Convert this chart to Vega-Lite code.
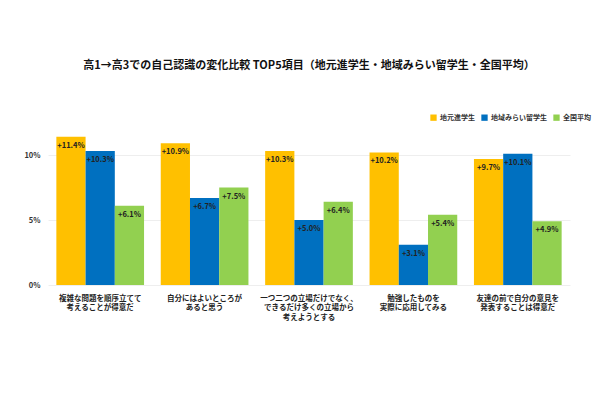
{
  "$schema": "https://vega.github.io/schema/vega-lite/v6.json",
  "width": 522,
  "height": 156,
  "autosize": {"type": "none"},
  "padding": {"left": 48, "top": 129, "right": 40, "bottom": 115},
  "background": "white",
  "title": {
    "text": "高1→高3での自己認識の変化比較 TOP5項目（地元進学生・地域みらい留学生・全国平均）",
    "font": "Noto Sans CJK JP",
    "fontSize": 11,
    "fontWeight": "bold",
    "color": "#111111",
    "anchor": "middle",
    "offset": 43
  },
  "config": {
    "view": {"stroke": null},
    "font": "Noto Sans CJK JP"
  },
  "data": {
    "values": [
      {"item": "複雑な問題を順序立てて\n考えることが得意だ", "group": "地元進学生", "value": 11.4},
      {"item": "複雑な問題を順序立てて\n考えることが得意だ", "group": "地域みらい留学生", "value": 10.3},
      {"item": "複雑な問題を順序立てて\n考えることが得意だ", "group": "全国平均", "value": 6.1},
      {"item": "自分にはよいところが\nあると思う", "group": "地元進学生", "value": 10.9},
      {"item": "自分にはよいところが\nあると思う", "group": "地域みらい留学生", "value": 6.7},
      {"item": "自分にはよいところが\nあると思う", "group": "全国平均", "value": 7.5},
      {"item": "一つ二つの立場だけでなく、\nできるだけ多くの立場から\n考えようとする", "group": "地元進学生", "value": 10.3},
      {"item": "一つ二つの立場だけでなく、\nできるだけ多くの立場から\n考えようとする", "group": "地域みらい留学生", "value": 5.0},
      {"item": "一つ二つの立場だけでなく、\nできるだけ多くの立場から\n考えようとする", "group": "全国平均", "value": 6.4},
      {"item": "勉強したものを\n実際に応用してみる", "group": "地元進学生", "value": 10.2},
      {"item": "勉強したものを\n実際に応用してみる", "group": "地域みらい留学生", "value": 3.1},
      {"item": "勉強したものを\n実際に応用してみる", "group": "全国平均", "value": 5.4},
      {"item": "友達の前で自分の意見を\n発表することは得意だ", "group": "地元進学生", "value": 9.7},
      {"item": "友達の前で自分の意見を\n発表することは得意だ", "group": "地域みらい留学生", "value": 10.1},
      {"item": "友達の前で自分の意見を\n発表することは得意だ", "group": "全国平均", "value": 4.9}
    ]
  },
  "encoding": {
    "x": {
      "field": "item",
      "type": "nominal",
      "sort": null,
      "scale": {"paddingInner": 0.16, "paddingOuter": 0.08},
      "axis": {
        "title": null,
        "labelAngle": 0,
        "labelExpr": "split(datum.label, '\\n')",
        "labelFontSize": 7.5,
        "labelFontWeight": "bold",
        "labelColor": "#222222",
        "labelLineHeight": 9.5,
        "labelPadding": 9,
        "ticks": false,
        "domain": false
      }
    },
    "xOffset": {
      "field": "group",
      "type": "nominal",
      "sort": ["地元進学生", "地域みらい留学生", "全国平均"],
      "scale": {"paddingInner": 0, "paddingOuter": 0}
    },
    "y": {
      "field": "value",
      "type": "quantitative",
      "scale": {"domain": [0, 12], "nice": false},
      "axis": {
        "title": null,
        "values": [0, 5, 10],
        "labelExpr": "datum.value + '%'",
        "labelFontSize": 7.5,
        "labelFontWeight": "bold",
        "labelColor": "#333333",
        "labelPadding": 8,
        "ticks": false,
        "domain": false,
        "grid": true,
        "gridColor": "#eeeeee",
        "gridWidth": 1
      }
    }
  },
  "layer": [
    {
      "mark": {"type": "bar"},
      "encoding": {
        "color": {
          "field": "group",
          "type": "nominal",
          "sort": ["地元進学生", "地域みらい留学生", "全国平均"],
          "scale": {
            "domain": ["地元進学生", "地域みらい留学生", "全国平均"],
            "range": ["#FFC000", "#0070C0", "#92D050"]
          },
          "legend": {
            "title": null,
            "orient": "none",
            "legendX": 382,
            "legendY": -15,
            "direction": "horizontal",
            "symbolType": "square",
            "symbolSize": 40,
            "symbolStrokeWidth": 0,
            "labelFontSize": 7,
            "labelFontWeight": "bold",
            "labelColor": "#333333",
            "columnPadding": 6,
            "labelOffset": 3
          }
        }
      }
    },
    {
      "transform": [
        {"calculate": "'+' + format(datum.value, '.1f') + '%'", "as": "label"}
      ],
      "mark": {
        "type": "text",
        "baseline": "middle",
        "align": "center",
        "dy": 9,
        "fontSize": 7.5,
        "fontWeight": "bold",
        "color": "#222222"
      },
      "encoding": {
        "text": {"field": "label", "type": "nominal"}
      }
    }
  ]
}
